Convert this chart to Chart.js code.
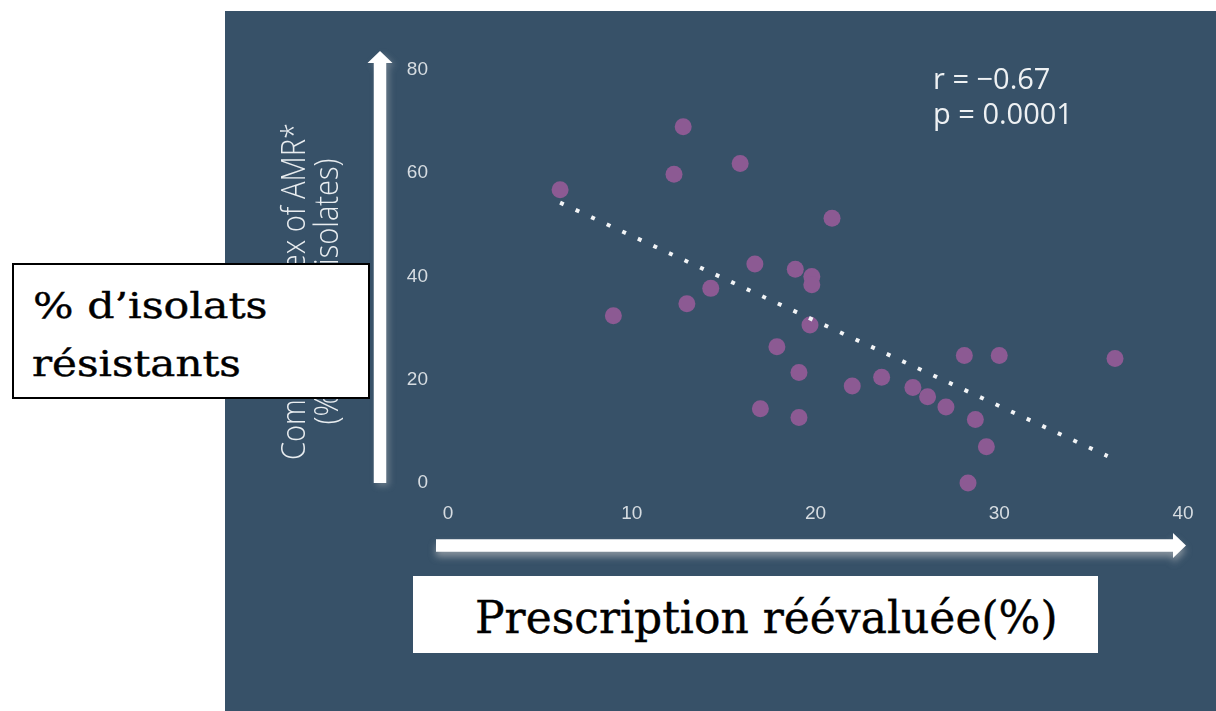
<!DOCTYPE html>
<html>
<head>
<meta charset="utf-8">
<script src="https://cdn.jsdelivr.net/npm/chart.js@4.4.1/dist/chart.umd.min.js"></script>
<style>
  html, body { margin: 0; padding: 0; background: #ffffff; }
  #wrap { position: relative; width: 1216px; height: 711px; overflow: hidden; }
  #panel { position: absolute; left: 225px; top: 11px; width: 991px; height: 700px; background: #375168; }
  #c { position: absolute; left: 0; top: 0; }
  .box { position: absolute; background: #ffffff; box-sizing: border-box; }
  #boxLeft { left: 12px; top: 263px; width: 358px; height: 136px; border: 2px solid #000; }
  #boxBottom { left: 413px; top: 576px; width: 685px; height: 77px; }
  .serif { position: absolute; font-family: "DejaVu Serif", serif; color: #000; white-space: nowrap; line-height: 1; transform-origin: left top; -webkit-text-stroke: 0.4px #000; }
  #l1 { left: 33px; top: 289px; font-size: 35px; transform: scaleX(1.22); }
  #l2 { left: 32px; top: 347px; font-size: 35px; transform: scaleX(1.2); }
  #bt { left: 475px; top: 596px; font-size: 44px; }
  #annot { position: absolute; left: 933px; top: 60px; font-family: "Open Sans", sans-serif; font-weight: 400; font-size: 29px; line-height: 35px; color: #eef1f3; white-space: nowrap; }
</style>
</head>
<body>
<div id="wrap">
  <div id="panel"></div>
  <canvas id="c" width="1216" height="711"></canvas>
  <div id="boxLeft" class="box"></div>
  <div id="l1" class="serif">% d’isolats</div>
  <div id="l2" class="serif">résistants</div>
  <div id="boxBottom" class="box"></div>
  <div id="bt" class="serif">Prescription réévaluée(%)</div>
  <div id="annot">r = −0.67<br>p = 0.0001</div>
</div>
<script>
// ---- data ----
const xValues = [6.1, 9.0, 12.8, 12.3, 13.0, 14.3, 15.9, 16.7, 17.0, 17.9, 18.9, 19.1, 19.1, 19.8, 19.8, 19.7, 20.9, 22.0, 23.6, 25.3, 26.1, 27.1, 28.1, 28.7, 28.3, 29.3, 30.0, 36.3];
const yValues = [56.8, 32.4, 69.0, 59.8, 34.7, 37.7, 61.9, 42.4, 14.4, 26.4, 41.4, 21.4, 12.7, 40.0, 38.4, 30.6, 51.3, 18.8, 20.5, 18.5, 16.7, 14.7, 24.7, 12.3, 0.0, 7.0, 24.7, 24.1];
const trendX = [6.1, 35.9];
const trendY = [54.3, 5.2];
const xTickStep = 10, xMin = 0, xMax = 40;
const yTickStep = 20, yMin = 0, yMax = 80;
const yTitleLines = ["Composite index of AMR*", "(% resistant isolates)"];

const tickColor = "#d6dce1";
const tickFont = { family: "'Liberation Sans', Arial, sans-serif", size: 19 };

const decor = {
  id: "decor",
  afterDraw(chart) {
    const { ctx, chartArea: a } = chart;
    // rotated y-axis title
    ctx.save();
    ctx.fillStyle = "#e9edf0";
    ctx.font = "300 33px 'Open Sans', sans-serif";
    ctx.textAlign = "center";
    ctx.textBaseline = "alphabetic";
    const yc = (a.top + a.bottom) / 2 + 15;
    const w0 = ctx.measureText(yTitleLines[0]).width;
    const sx = 337 / w0;
    yTitleLines.forEach((t, i) => {
      ctx.save();
      ctx.translate(a.left - 143 + i * 33, yc);
      ctx.rotate(-Math.PI / 2);
      ctx.scale(sx, 1);
      ctx.fillText(t, 0, 0);
      ctx.restore();
    });
    ctx.restore();

    // vertical arrow
    ctx.save();
    ctx.fillStyle = "#ffffff";
    ctx.shadowColor = "rgba(200,200,200,0.35)";
    ctx.shadowBlur = 6;
    ctx.shadowOffsetX = 3;
    ctx.shadowOffsetY = 3;
    let cx = a.left - 68, sw = 12.5, hw = 25;
    let yB = a.bottom, yBase = a.top - 7, yTip = a.top - 19;
    ctx.beginPath();
    ctx.moveTo(cx - sw / 2, yB);
    ctx.lineTo(cx - sw / 2, yBase);
    ctx.lineTo(cx - hw / 2, yBase);
    ctx.lineTo(cx, yTip);
    ctx.lineTo(cx + hw / 2, yBase);
    ctx.lineTo(cx + sw / 2, yBase);
    ctx.lineTo(cx + sw / 2, yB);
    ctx.closePath();
    ctx.fill();
    ctx.restore();

    // horizontal arrow
    ctx.save();
    ctx.fillStyle = "#ffffff";
    ctx.shadowColor = "rgba(200,200,200,0.55)";
    ctx.shadowBlur = 7;
    ctx.shadowOffsetX = 0;
    ctx.shadowOffsetY = 5;
    let cy = a.bottom + 62.5;
    let xS = a.left - 12, xBase = a.right - 10, xTip = a.right + 3;
    ctx.beginPath();
    ctx.moveTo(xS, cy - sw / 2);
    ctx.lineTo(xBase, cy - sw / 2);
    ctx.lineTo(xBase, cy - hw / 2);
    ctx.lineTo(xTip, cy);
    ctx.lineTo(xBase, cy + hw / 2);
    ctx.lineTo(xBase, cy + sw / 2);
    ctx.lineTo(xS, cy + sw / 2);
    ctx.closePath();
    ctx.fill();
    ctx.restore();
  }
};

new Chart(document.getElementById("c"), {
  type: "scatter",
  data: {
    datasets: [
      {
        type: "line",
        data: trendX.map((x, i) => ({ x: x, y: trendY[i] })),
        borderColor: "#f2f4f6",
        borderWidth: 4,
        borderDash: [4, 13.14],
        pointRadius: 0,
        fill: false,
        order: 0,
        clip: false
      },
      {
        type: "scatter",
        data: xValues.map((x, i) => ({ x: x, y: yValues[i] })),
        backgroundColor: "#8c5a93",
        borderWidth: 0,
        pointRadius: 8.5,
        pointHoverRadius: 8.5,
        order: 1,
        clip: false
      }
    ]
  },
  options: {
    responsive: false,
    animation: false,
    devicePixelRatio: 1,
    events: [],
    layout: { padding: { left: 0, right: 33, top: 70, bottom: 0 } },
    plugins: { legend: { display: false }, tooltip: { enabled: false } },
    scales: {
      x: {
        type: "linear", min: xMin, max: xMax,
        ticks: { stepSize: xTickStep, padding: 19, color: tickColor, font: tickFont, maxRotation: 0 },
        grid: { display: false, drawTicks: false },
        border: { display: false },
        afterFit(s) { s.height = 228; }
      },
      y: {
        type: "linear", min: yMin, max: yMax,
        ticks: { stepSize: yTickStep, padding: 20, color: tickColor, font: tickFont },
        grid: { display: false, drawTicks: false },
        border: { display: false },
        afterFit(s) { s.width = 448; }
      }
    }
  },
  plugins: [decor]
});
</script>
</body>
</html>
